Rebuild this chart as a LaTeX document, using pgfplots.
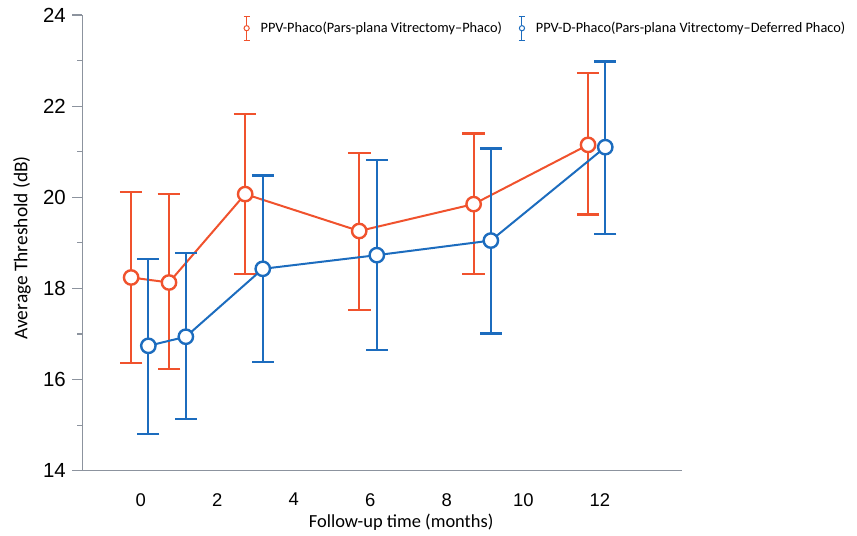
\documentclass[border=0pt]{standalone}
\usepackage{fontspec}
\setmainfont{Carlito}
\newfontfamily\hel{Liberation Sans}
\usepackage{pgfplots}
\pgfplotsset{compat=1.18}
\definecolor{cred}{RGB}{240,82,45}
\definecolor{cblue}{RGB}{28,108,190}
\definecolor{axgray}{RGB}{140,147,158}

\pgfplotstableread{
x y ep em
-0.25 18.24 1.87 1.88
0.74 18.13 1.94 1.90
2.73 20.07 1.75 1.75
5.71 19.26 1.72 1.73
8.70 19.85 1.55 1.53
11.69 21.15 1.58 1.53
}\redtab

\pgfplotstableread{
x y ep em
0.20 16.74 1.91 1.93
1.18 16.94 1.84 1.80
3.19 18.43 2.05 2.04
6.17 18.73 2.09 2.08
9.15 19.05 2.02 2.04
12.14 21.10 1.88 1.91
}\bluetab

\begin{document}
\begin{tikzpicture}
\useasboundingbox (0,0) rectangle (857bp,536bp);
\begin{axis}[
  at={(82.3bp,65.3bp)}, anchor=south west,
  scale only axis, width=599.4bp, height=455.7bp,
  xmin=-1.526, xmax=14.137, ymin=14, ymax=24,
  axis x line*=bottom, axis y line*=left,
  axis line style={axgray, line width=1.3bp},
  xtick={0,2,...,12}, ytick={14,16,...,24}, minor ytick={15,17,...,23},
  tick align=outside,
  major tick length=10bp, minor tick length=5bp,
  xtick style={draw=none},
  ytick style={axgray, line width=1.2bp},
  minor y tick style={axgray, line width=1.2bp},
  /pgf/number format/assume math mode=true,
  yticklabel style={font=\hel\fontsize{20.5}{21}\selectfont, xshift=-3bp},
  xticklabel style={font=\hel\fontsize{18.5}{19}\selectfont, yshift=-9bp},
  xlabel={Follow-up time (months)},
  ylabel={Average Threshold (dB)},
  xlabel style={font=\fontsize{18.5}{20}\selectfont, at={(axis description cs:0.532,-0.1126)}, anchor=center},
  ylabel style={font=\fontsize{19.5}{21}\selectfont, at={(axis description cs:-0.1006,0.489)}, anchor=center, rotate=0},
  legend style={at={(axis description cs:0.263,0.971)}, anchor=west, draw=none, fill=none,
    font=\fontsize{14.4}{16}\selectfont, legend columns=2,
    /tikz/every odd column/.append style={column sep=8.5bp},
    /tikz/every even column/.append style={column sep=14.5bp}},
]
\addplot[cred, line width=2bp, mark=*, mark size=7.2bp,
  mark options={fill=white, line width=2.4bp, solid},
  legend image code/.code={
    \draw[cred, line width=1bp] (0bp,-12bp)--(0bp,12bp) (-3bp,-12bp)--(3bp,-12bp) (-3bp,12bp)--(3bp,12bp);
    \draw[cred, line width=1bp, fill=white] (0bp,0bp) circle (2.6bp);},
  error bars/.cd, y dir=both, y explicit,
  error bar style={line width=2.2bp, cred},
  error mark options={rotate=90, mark size=11.3bp, line width=2.2bp, cred},
  ] table[x=x, y=y, y error plus=ep, y error minus=em] {\redtab};
\addlegendentry{PPV-Phaco(Pars-plana Vitrectomy–Phaco)}
\addplot[cblue, line width=2bp, mark=*, mark size=7.2bp,
  mark options={fill=white, line width=2.4bp, solid},
  legend image code/.code={
    \draw[cblue, line width=1bp] (0bp,-12bp)--(0bp,12bp) (-3bp,-12bp)--(3bp,-12bp) (-3bp,12bp)--(3bp,12bp);
    \draw[cblue, line width=1bp, fill=white] (0bp,0bp) circle (2.6bp);},
  error bars/.cd, y dir=both, y explicit,
  error bar style={line width=2.2bp, cblue},
  error mark options={rotate=90, mark size=11bp, line width=2.2bp, cblue},
  ] table[x=x, y=y, y error plus=ep, y error minus=em] {\bluetab};
\addlegendentry{PPV-D-Phaco(Pars-plana Vitrectomy–Deferred Phaco)}
\end{axis}
\end{tikzpicture}
\end{document}
